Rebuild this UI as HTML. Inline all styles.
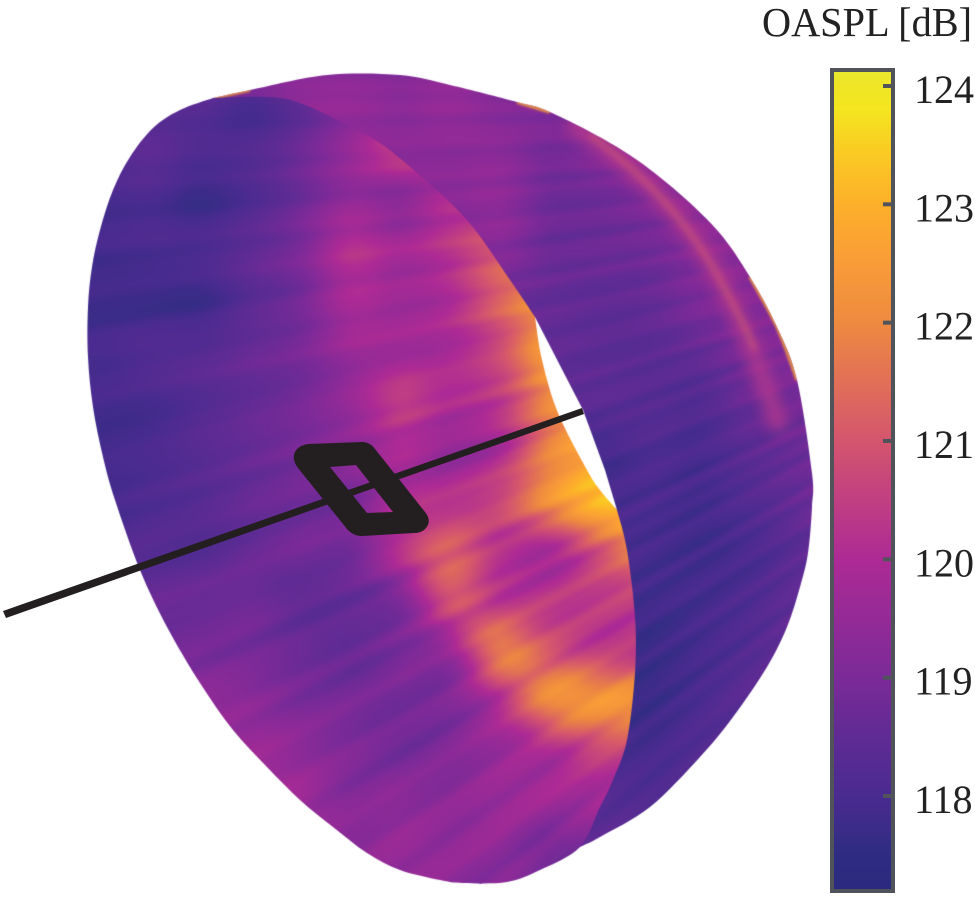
<!DOCTYPE html>
<html lang="en">
<head>
<meta charset="utf-8">
<title>OASPL surface</title>
<style>
html,body{margin:0;padding:0;background:#fff;width:975px;height:900px;overflow:hidden}
#stage{position:relative;width:975px;height:900px}
#surface,#overlay{position:absolute;left:0;top:0}
text{font-family:"Liberation Serif",serif;fill:#222}
</style>
</head>
<body>
<div id="stage">
<canvas id="surface" width="975" height="900"></canvas>
<svg id="overlay" width="975" height="900" viewBox="0 0 975 900">
  <defs><linearGradient id="cbGrad" x1="0" y1="1" x2="0" y2="0"></linearGradient></defs>
  <path d="M3,611 L582,408 L584,414 L6,618 Z" fill="#231f20"/>
  <path fill-rule="evenodd" fill="#231f20"
    d="M308,444 L362,442 Q370,442 375,449 L425,512 Q433,522 424,530 Q420,533 414,533 L362,536 Q353,536 347,529 L298,468 Q290,457 297,449 Q301,445 308,444 Z M330,467 L356,465 L393,512 L367,513 Z"/>
  <g id="colorbar">
    <rect x="832" y="70" width="61" height="821" fill="url(#cbGrad)" stroke="#50545a" stroke-width="4"/>
  </g>
  <text x="762" y="36" font-size="41" textLength="210" lengthAdjust="spacingAndGlyphs">OASPL [dB]</text>
</svg>
</div>
<script>
var colorbarTicks = [118, 119, 120, 121, 122, 123, 124];
var colormapValues = [117.2, 117.5, 118, 118.5, 119, 120, 121, 122, 122.5, 123, 123.5, 123.8, 124, 124.13];
var colormapColors = [[42,42,127],[46,44,130],[74,43,143],[95,43,148],[123,42,152],[173,42,149],[212,85,110],[238,138,64],[249,156,56],[253,176,42],[249,207,34],[244,230,31],[239,229,37],[232,232,48]];

var frontGridValues = [
[118.6,118.6,118.6,118.6,118.6,118.7,118.8,118.9,119,119,119,119,119],
[118.5,118.5,118.4,118.4,118,118.5,119.2,119.4,119.3,119,119,119,119],
[118.2,118.2,118.4,118.1,118.2,118.7,119.5,120.4,119.9,119.5,119.5,119.5,119.5],
[118,118,118.1,117.8,118.2,118.8,119.5,119.3,120,119.9,119.5,119.5,119.5],
[117.9,117.9,118,118.1,118.5,119,120.1,119.8,120.3,121.2,121.4,121.4,121],
[117.8,117.8,117.8,117.8,118.4,118.9,119.9,119.7,120,121.2,122.2,122.5,122.5],
[118,118,118.2,118.3,118.6,118.9,119.6,119.8,120,120.8,122.5,123,123],
[118,117.9,118,118.3,118.6,118.9,119.5,120.4,120,120.4,122,122.8,122.8],
[117.9,117.9,118,118.3,118.6,118.9,119.3,119.9,119.5,120,121.8,122.8,123],
[117.9,117.9,118.1,118.3,118.6,118.8,119,119.9,120.2,120.8,122.2,123.2,123.3],
[118.2,118.2,118.3,118.3,118.6,118.8,118.9,120.2,121.2,120.2,119.9,121,122],
[118.6,118.6,118.6,118.7,118.8,118.5,118.6,119,120.9,120.3,120.3,120.5,120.5],
[118.9,118.9,118.9,118.9,118.9,118.7,118.6,119,119.5,121.8,121,120.4,120.4],
[119.4,119.4,119.4,119.4,119.3,119,118.9,118.9,119.1,120.2,122,122.3,122.3],
[119.5,119.5,119.5,119.5,119.6,119.4,119.1,118.9,119.1,119.6,120,120.6,120.6],
[119.8,119.8,119.8,119.8,119.8,119.7,119.2,119.3,119.3,119.6,119.7,119.8,119.8],
[119.3,119.3,119.3,119.3,119.3,119.3,119.3,119.5,119.4,119.4,118.9,119,119],
[119.3,119.3,119.3,119.3,119.3,119.3,119.3,119.4,119.3,119.1,119,119,119]
];

var backGridValues = [
[119,119,119,119,119,119,119,119,119,119,119,119,119,119],
[119,119,119.4,119.5,119.3,119.5,119.2,119.2,119.2,119.2,119.2,119.2,119.2,119.2],
[119.3,119.3,119.3,119.3,119.3,119.3,119.3,118.9,119.2,119.5,119.5,119.5,119.5,119.5],
[119.3,119.3,119.3,119.3,119.3,119.3,119.4,118.8,118.8,119.1,119.4,119.5,119.5,119.5],
[119,119,119,119,119,119,119.2,118.7,118.7,118.8,119.2,119.4,119.5,119.5],
[118.8,118.8,118.8,118.8,118.8,118.7,118.7,118.6,118.5,118.6,119,119.2,119.3,119.3],
[118.7,118.7,118.7,118.7,118.7,118.7,118.6,118.5,118.4,118.4,118.6,119,119.2,119.2],
[118.6,118.6,118.6,118.6,118.6,118.6,118.5,118.4,118.4,118.3,118.2,118.7,118.9,118.9],
[118.5,118.5,118.5,118.5,118.5,118.4,118.4,118.2,117.9,118.1,118,118.4,118.7,118.9],
[118.4,118.4,118.4,118.4,118.4,118.3,118.3,118.2,118,118,117.9,118.2,118.6,118.9],
[118.3,118.3,118.3,118.3,118.3,118.2,118.2,118.1,118,117.9,117.8,118,118.4,118.7],
[118.2,118.2,118.2,118.2,118.2,118.1,118.1,118,117.9,117.8,117.9,118.1,118.5,118.6],
[118.1,118.1,118.1,118.1,118.1,118,118,117.9,117.8,117.7,117.9,118.2,118.6,118.6],
[118.1,118.1,118.1,118.1,118.1,118,118,117.9,117.7,117.7,118,118.4,118.6,118.6],
[118.2,118.2,118.2,118.2,118.2,118.2,118.1,118,117.9,117.9,118.2,118.5,118.6,118.6],
[118.5,118.5,118.5,118.5,118.5,118.5,118.4,118.4,118.2,118.2,118.4,118.6,118.6,118.6],
[118.6,118.6,118.6,118.6,118.6,118.6,118.6,118.6,118.5,118.6,118.6,118.6,118.6,118.6],
[118.6,118.6,118.6,118.6,118.6,118.6,118.6,118.6,118.6,118.6,118.6,118.6,118.6,118.6]
];

var frontStreaks = [
 0.1,-0.15,0.2,0.25,-0.1,-0.3,0.05,0.2,-0.05,0.25,-0.15,-0.35,
 0.1,0.25,-0.25,0.05,0.3,-0.1,-0.35,0.15,0.05,-0.2,0.1,0.35,
 -0.15,-0.3,-0.05,0.2,0.1,-0.1,0.3,-0.25,0.1,0.25,-0.15,-0.3,
 0.15,0.35,-0.05,-0.2,0.05,0.25,-0.35,0.2,0.05,-0.15,0.3,-0.3,
 0.05,0.35,-0.1,-0.25,0.2,0.05,-0.35,0.1,0.3,-0.05,-0.2,0.25,
 0.1,-0.25,0.15,0.25,-0.1,-0.3,0.2,0.05,-0.15,0.25,-0.05,0.05
];
var backStreaks = [
 0.1,-0.15,0.2,-0.1,0.15,-0.25,0.1,0.2,-0.15,0.05,0.2,-0.2,
 0.15,-0.1,-0.2,0.2,0.1,-0.25,0.15,0.1,-0.15,0.25,-0.1,-0.2,
 0.2,0.05,-0.2,0.15,0.2,-0.15,-0.1,0.25,-0.2,0.1,0.15,-0.25,
 0.2,-0.1,0.1,0.25,-0.2,-0.1,0.2,0.05,-0.25,0.3,-0.1,0.1,
 -0.2,0.25,0.05,-0.2,0.3,-0.15,0.1,0.25,-0.2,-0.05,0.3,-0.15,
 0.1,0.2,-0.2,0.25,-0.1,0.1,0.2,-0.15,0.1,-0.1,0.1,0
];

var BAR_TOP = 86, BAR_STEP = 118.33;
function yOf(v){ return BAR_TOP + (124 - v) * BAR_STEP; }
function colorOf(v){
  var n = colormapValues.length;
  if (v <= colormapValues[0]) return colormapColors[0];
  if (v >= colormapValues[n-1]) return colormapColors[n-1];
  for (var i = 1; i < n; i++) {
    if (v <= colormapValues[i]) {
      var t = (v - colormapValues[i-1]) / (colormapValues[i] - colormapValues[i-1]);
      var a = colormapColors[i-1], b = colormapColors[i];
      return [a[0]+(b[0]-a[0])*t, a[1]+(b[1]-a[1])*t, a[2]+(b[2]-a[2])*t];
    }
  }
}
var svgNS = 'http://www.w3.org/2000/svg';
var grad = document.getElementById('cbGrad');
var barMin = colormapValues[0], barMax = colormapValues[colormapValues.length-1];
colormapValues.forEach(function(v, i){
  var s = document.createElementNS(svgNS, 'stop');
  s.setAttribute('offset', (v - barMin) / (barMax - barMin));
  var c = colormapColors[i];
  s.setAttribute('stop-color', 'rgb(' + c[0] + ',' + c[1] + ',' + c[2] + ')');
  grad.appendChild(s);
});
var bar = document.getElementById('colorbar');
colorbarTicks.forEach(function(v){
  var y = yOf(v);
  var l = document.createElementNS(svgNS, 'line');
  l.setAttribute('x1', 883); l.setAttribute('x2', 893);
  l.setAttribute('y1', y); l.setAttribute('y2', y);
  l.setAttribute('stroke', '#50545a'); l.setAttribute('stroke-width', 4);
  
  
  bar.appendChild(l);
  var t = document.createElementNS(svgNS, 'text');
  t.setAttribute('x', 914); t.setAttribute('y', y + 17);
  t.setAttribute('font-size', 40);
  t.textContent = String(v);
  
  
  bar.appendChild(t);
});

function cr(p0,p1,p2,p3,t){
  return p1 + 0.5*t*(p2-p0 + t*(2*p0-5*p1+4*p2-p3 + t*(3*(p1-p2)+p3-p0)));
}
function sampleGrid(g,x0,y0,step,x,y){
  var rows=g.length, cols=g[0].length;
  var fx=(x-x0)/step, fy=(y-y0)/step;
  fx=Math.max(0,Math.min(cols-1.001,fx)); fy=Math.max(0,Math.min(rows-1.001,fy));
  var ix=Math.floor(fx), iy=Math.floor(fy), tx=fx-ix, ty=fy-iy, r=[];
  for(var j=-1;j<=2;j++){
    var R=g[Math.max(0,Math.min(rows-1,iy+j))];
    r.push(cr(R[Math.max(0,ix-1)],R[ix],R[Math.min(cols-1,ix+1)],R[Math.min(cols-1,ix+2)],tx));
  }
  return cr(r[0],r[1],r[2],r[3],ty);
}
function streak(arr,x,y){
  var a=Math.atan2(y-100,1500-x)*180/Math.PI;
  var f=(a+2)/43*71;
  f=Math.max(0,Math.min(70.99,f));
  var i=Math.floor(f), t=f-i; t=t*t*(3-2*t);
  var v=arr[i]*(1-t)+arr[i+1]*t;
  var env=0.5+0.5*Math.max(0,Math.min(1,(x-250)/300));
  return v*env;
}
function layer(g,x0,y0,step,arr,gain){
  var c=document.createElement('canvas'); c.width=975; c.height=900;
  var x=c.getContext('2d'), im=x.createImageData(975,900), d=im.data;
  for(var py=60;py<900;py++) for(var px=70;px<830;px++){
    var v=sampleGrid(g,x0,y0,step,px,py)+gain*streak(arr,px,py);
    var col=colorOf(v), k=(py*975+px)*4;
    d[k]=col[0]; d[k+1]=col[1]; d[k+2]=col[2]; d[k+3]=255;
  }
  x.putImageData(im,0,0);
  return c;
}
function spline(ctx,p){
  for(var i=0;i<p.length-1;i++){
    var a=p[Math.max(0,i-1)], b=p[i], c=p[i+1], e=p[Math.min(p.length-1,i+2)];
    ctx.bezierCurveTo(b[0]+(c[0]-a[0])/6,b[1]+(c[1]-a[1])/6,c[0]-(e[0]-b[0])/6,c[1]-(e[1]-b[1])/6,c[0],c[1]);
  }
}
var backOuter=[[213,98],[250,90],[327,75],[400,75],[450,85],[517,102],[550,112],[617,147],[667,183],[717,230],[750,277],[777,327],[797,380],[812,473],[812,507],[808,553],[800,587],[787,627],[767,667],[733,717],[700,757],[650,807],[600,837],[580,847]];
var frontTop=[[213,98],[267,97],[300,103],[347,125],[380,143],[417,173],[467,220],[510,280],[535,317]];
var holeLeft=[[535,317],[542,360],[558,413],[587,470],[600,490],[617,510]];
var frontRight=[[617,510],[627,550],[635,617],[635,673],[627,740],[613,780],[600,807],[580,847],[540,870],[507,882],[463,883],[440,880],[400,870],[367,853],[333,827],[300,800],[267,767],[233,730],[200,683],[167,627],[140,570],[115,500],[103,457],[93,407],[88,357],[88,307],[92,267],[100,230],[113,190],[130,157],[153,128],[180,110],[213,98]];

var ctx=document.getElementById('surface').getContext('2d');
ctx.fillStyle='#fff'; ctx.fillRect(0,0,975,900);

// rear shell
ctx.save();
ctx.beginPath(); ctx.moveTo(213,98); spline(ctx,backOuter); ctx.lineTo(480,884); ctx.lineTo(150,400); ctx.closePath(); ctx.clip();
ctx.drawImage(layer(backGridValues,200,50,50,backStreaks,0.7),0,0);
ctx.filter='blur(7px)';
ctx.strokeStyle='rgba(190,60,140,0.7)'; ctx.lineWidth=18;
ctx.beginPath(); ctx.moveTo(570,122); ctx.quadraticCurveTo(680,195,727,293); ctx.quadraticCurveTo(760,360,780,430); ctx.stroke();
ctx.filter='blur(3px)';
ctx.strokeStyle='rgba(236,120,90,0.4)'; ctx.lineWidth=5;
ctx.beginPath(); ctx.moveTo(590,135); ctx.quadraticCurveTo(680,200,727,293); ctx.quadraticCurveTo(745,325,755,350); ctx.stroke();
ctx.filter='blur(1px)';
ctx.strokeStyle='rgba(250,170,50,0.9)'; ctx.lineWidth=3;
ctx.beginPath(); ctx.moveTo(213,98); spline(ctx,backOuter.slice(0,2)); ctx.stroke();
ctx.beginPath(); ctx.moveTo(517,102); spline(ctx,backOuter.slice(5,7)); ctx.stroke();
ctx.beginPath(); ctx.moveTo(750,277); spline(ctx,backOuter.slice(10,13)); ctx.stroke();
ctx.filter='none';
ctx.restore();

// opening behind the front face
ctx.fillStyle='#fff';
ctx.beginPath(); ctx.moveTo(535,317); ctx.lineTo(583,410); ctx.lineTo(605,470); ctx.lineTo(617,510); ctx.lineTo(500,400); ctx.closePath(); ctx.fill();

// front face
ctx.save();
ctx.beginPath(); ctx.moveTo(213,98); spline(ctx,frontTop); spline(ctx,holeLeft); spline(ctx,frontRight); ctx.closePath(); ctx.clip();
ctx.drawImage(layer(frontGridValues,50,50,50,frontStreaks,0.9),0,0);
ctx.restore();
</script>
</body>
</html>
